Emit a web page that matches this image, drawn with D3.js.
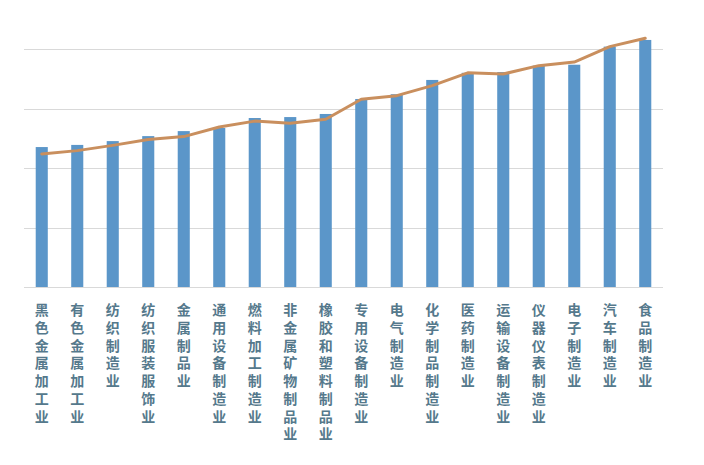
<!DOCTYPE html>
<html><head><meta charset="utf-8">
<script src="https://cdn.jsdelivr.net/npm/d3@7"></script>
<style>html,body{margin:0;padding:0;background:#fff;}svg{display:block;}
.lab text{writing-mode:vertical-rl;text-orientation:upright;}</style>
</head><body>
<div id="chart"></div>
<script>
const categories = ["黑色金属加工业","有色金属加工业","纺织制造业","纺织服装服饰业","金属制品业","通用设备制造业","燃料加工制造业","非金属矿物制品业","橡胶和塑料制品业","专用设备制造业","电气制造业","化学制品制造业","医药制造业","运输设备制造业","仪器仪表制造业","电子制造业","汽车制造业","食品制造业"];
const barValues = [58.8,59.7,61.3,63.4,65.5,66.8,71.0,71.4,72.7,79.0,81.0,87.0,90.0,90.3,93.0,93.4,101.0,103.8];
const lineValues = [55.9,57.3,59.5,62.0,63.2,67.2,69.7,68.8,70.5,78.9,80.4,84.6,90.0,89.5,93.0,94.5,101.0,104.5];
const gridTicks = [0,25,50,75,100];

const W = 704, H = 465;
const svg = d3.select("#chart").append("svg").attr("width", W).attr("height", H);
const x = d3.scaleBand().domain(categories).range([24, 663]).paddingInner(0.66).paddingOuter(0.33);
const y = d3.scaleLinear().domain([0, 100]).range([287, 49]);

svg.append("g").selectAll("line").data(gridTicks).join("line")
  .attr("x1", 24).attr("x2", 663)
  .attr("y1", d => Math.round(y(d)) + 0.5).attr("y2", d => Math.round(y(d)) + 0.5)
  .attr("stroke", "#d9d9d9").attr("stroke-width", 1);

svg.append("g").selectAll("rect").data(barValues).join("rect")
  .attr("x", (d, i) => x(categories[i]))
  .attr("width", x.bandwidth())
  .attr("y", d => y(d))
  .attr("height", d => y(0) - y(d))
  .attr("fill", "#5b96c9");

const line = d3.line()
  .x((d, i) => x(categories[i]) + x.bandwidth() / 2)
  .y(d => y(d));
svg.append("path").datum(lineValues)
  .attr("d", line).attr("fill", "none")
  .attr("stroke", "#c98f5e").attr("stroke-width", 3)
  .attr("stroke-linejoin", "round").attr("stroke-linecap", "round");

const lab = svg.append("g").attr("class", "lab").attr("font-family", "'Noto Sans CJK SC', sans-serif")
  .attr("font-size", 14).attr("font-weight", "bold").attr("fill", "#55798c");
lab.selectAll("text").data(categories).join("text")
  .attr("x", d => x(d) + x.bandwidth() / 2)
  .attr("y", 303)
  .attr("letter-spacing", 3.7)
  .text(d => d);
</script>
</body></html>
